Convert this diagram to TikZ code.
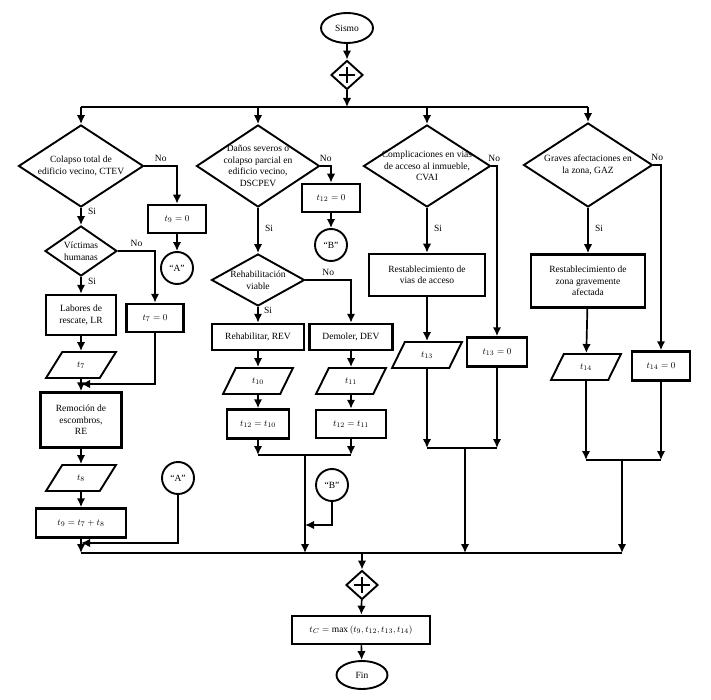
\documentclass[tikz,border=0pt]{standalone}
\usepackage{fontspec}
\setmainfont{Liberation Serif}
\usepackage{amsmath}
\usetikzlibrary{arrows.meta}
\usetikzlibrary{shapes.geometric}

\tikzset{
 every node/.style={font=\fontsize{9.5}{11.5}\selectfont},
 texto/.style={align=center, inner sep=0pt},
 caja/.style 2 args={draw, line width=2.5pt, align=center, inner sep=1pt, minimum width=#1pt, minimum height=#2pt},
 decision/.style n args={3}{diamond, draw, line width=1.9pt, inner sep=0pt, minimum width=#1pt, minimum height=#2pt, label={[texto]center:#3}},
 dato/.style={trapezium, trapezium left angle=64, trapezium right angle=116, trapezium stretches=true, draw, line width=1.9pt, inner sep=0pt, minimum width=70pt, minimum height=26pt},
 conector/.style={circle, draw, line width=1.9pt, inner sep=0pt, minimum size=32pt},
 inicio/.style={ellipse, draw, line width=1.9pt, inner sep=0pt, minimum width=52pt, minimum height=30pt},
 suma/.style={diamond, draw, line width=1.9pt, inner sep=0pt, minimum width=32pt, minimum height=29pt,
  path picture={\draw[line width=2.4pt] ([xshift=-8pt]path picture bounding box.center) --++(16pt,0pt)
   ([yshift=-8pt]path picture bounding box.center) --++(0pt,16pt);}}
}

\begin{document}
\begin{tikzpicture}[x=1pt, y=-1pt, line width=1.7pt, >={Latex[length=9pt,width=8.5pt]}]
\useasboundingbox (0,0) rectangle (711,700);

% inicio
\node[inicio] (sismo) at (347,28) {Sismo};
\node[suma] (suma1) at (347,75) {};
\coordinate (busA) at (81,107);
\coordinate (busB) at (588,107);

% preguntas
\node[decision={125}{82}{Colapso total de\\edificio vecino, CTEV}] (d1) at (81,166) {};
\node[decision={123}{82}{Da\~nos severos o\\colapso parcial en\\edificio vecino,\\DSCPEV}, every label/.append style={yshift=-6pt}] (d3) at (258,166) {};
\node[decision={127}{82}{Complicaciones en vias\\de acceso al inmueble,\\CVAI}, every label/.append style={yshift=-6pt}] (d5) at (427,166) {};
\node[decision={129}{84}{Graves afectaciones en\\la zona, GAZ}] (d6) at (588,165) {};

% columna CTEV
\node[caja={58}{28}] (t9a) at (177,219) {$t_{9}=0$};
\node[conector] (A1) at (177,268) {``A''};
\node[decision={72}{50}{V\'ictimas\\humanas}] (d2) at (81,251) {};
\node[caja={57}{28}] (t7a) at (155,318) {$t_{7}=0$};
\node[caja={70}{40}] (lr) at (81,315) {Labores de\\rescate, LR};
\node[dato] (pt7) at (81,365) {$t_{7}$};
\node[caja={81}{55}] (re) at (81,420) {Remoci\'on de\\escombros,\\RE};
\node[dato] (pt8) at (81,478) {$t_{8}$};
\node[caja={90}{29}] (t9b) at (81,523) {$t_{9}=t_{7}+t_{8}$};
\node[conector] (A2) at (178,478) {``A''};

% columna DSCPEV
\node[caja={58}{28}] (t12a) at (331,198) {$t_{12}=0$};
\node[conector] (B1) at (331,245) {``B''};
\node[decision={93}{52}{Rehabilitaci\'on\\viable}] (d4) at (258,280) {};
\node[caja={92}{26}] (rev) at (258,337) {Rehabilitar, REV};
\node[caja={83}{26}] (dev) at (351,337) {Demoler, DEV};
\node[dato] (pt10) at (258,381) {$t_{10}$};
\node[dato] (pt11) at (351,381) {$t_{11}$};
\node[caja={62}{29}] (t12b) at (258,424) {$t_{12}=t_{10}$};
\node[caja={70}{28}] (t12c) at (351,424) {$t_{12}=t_{11}$};
\node[conector] (B2) at (332,485) {``B''};

% columna CVAI
\node[caja={116}{42}] (ra) at (427,275) {Restablecimiento de\\vias de acceso};
\node[dato] (pt13) at (427,355) {$t_{13}$};
\node[caja={60}{29}] (t13a) at (497,352) {$t_{13}=0$};

% columna GAZ
\node[caja={114}{53}] (rz) at (588,281) {Restablecimiento de\\zona gravemente\\afectada};
\node[dato] (pt14) at (586,367) {$t_{14}$};
\node[caja={58}{29}] (t14a) at (661,366) {$t_{14}=0$};

% final
\coordinate (busI) at (81,553);
\coordinate (busD) at (622,553);
\node[suma] (suma2) at (362,585) {};
\node[caja={138}{28}] (tc) at (361,630) {$t_{C}=\max\,(t_{9},t_{12},t_{13},t_{14})$};
\node[inicio, minimum width=51pt, minimum height=28pt] (fin) at (362,675) {Fin};

% conexiones
\draw[->] (sismo) -- (suma1);
\draw[->] (suma1) -- (suma1 |- busA);
\draw (busA) -- (busB);
\foreach \d in {d1,d3,d5,d6}
 \draw[->] (\d.north |- busA) -- (\d.north);

\draw[->] (d1) -| node[pos=.25, above] (no1) {No} (t9a);
\draw[->] (t9a) -- (A1);
\draw[->] (d1) -- node[pos=.2, right, xshift=3pt] (si1) {Si} (d2);
\draw[->] (d2) -| node[pos=.25, above] (no2) {No} (t7a);
\draw[->] (d2) -- node[pos=.25, right, xshift=3pt] (si2) {Si} (lr);
\draw[->] (lr) -- (pt7);
\draw[->] (pt7) -- (re);
\coordinate (j1) at (81,384);
\draw[->] (t7a) |- (j1);
\draw[->] (re) -- (pt8);
\draw[->] (pt8) -- (t9b);
\coordinate (j2) at (81,543);
\draw[->] (A2) |- (j2);
\draw[->] (t9b) -- (t9b |- busI);

\draw[->] (d3) -| node[pos=.25, above] (no3) {No} (t12a);
\draw[->] (t12a) -- (B1);
\draw[->] (d3) -- node[pos=.45, right, xshift=3pt] (si3) {Si} (d4);
\draw[->] (d4) -| node[pos=.25, above] (no4) {No} (dev);
\draw[->] (d4) -- node[pos=.2, right, xshift=2pt] (si4) {Si} (rev);
\draw[->] (rev) -- (pt10);
\draw[->] (dev) -- (pt11);
\draw[->] (pt10) -- (t12b);
\draw[->] (pt11) -- (t12c);
\coordinate (u2) at (305,455);
\draw[->] (t12b) -- (t12b |- u2);
\draw[->] (t12c) -- (t12c |- u2);
\draw (t12b.south |- u2) -- (t12c.south |- u2);
\draw[->] (u2) -- (u2 |- busI);
\coordinate (j3) at (305,525);
\draw[->] (B2) |- (j3);

\draw[->] (d5) -| node[pos=.25, above] (no5) {No} (t13a);
\draw[->] (d5) -- node[pos=.45, right, xshift=3pt] (si5) {Si} (ra);
\draw[->] (ra) -- (pt13);
\coordinate (u3) at (465,448);
\draw[->] (pt13) -- (pt13 |- u3);
\draw[->] (t13a) -- (t13a |- u3);
\draw (pt13.south |- u3) -- (t13a.south |- u3);
\draw[->] (u3) -- (u3 |- busI);

\draw[->] (d6) -| node[pos=.25, above] (no6) {No} (t14a);
\draw[->] (d6) -- node[pos=.45, right, xshift=3pt] (si6) {Si} (rz);
\draw[->] (rz) -- (pt14);
\coordinate (u4) at (622,460);
\draw[->] (pt14) -- (pt14 |- u4);
\draw[->] (t14a) -- (t14a |- u4);
\draw (pt14.south |- u4) -- (t14a.south |- u4);
\draw[->] (u4) -- (busD);

\draw (busI) -- (busD);
\draw[->] (suma2 |- busI) -- (suma2);
\draw[->] (suma2) -- (tc);
\draw[->] (tc) -- (fin);
\end{tikzpicture}
\end{document}
